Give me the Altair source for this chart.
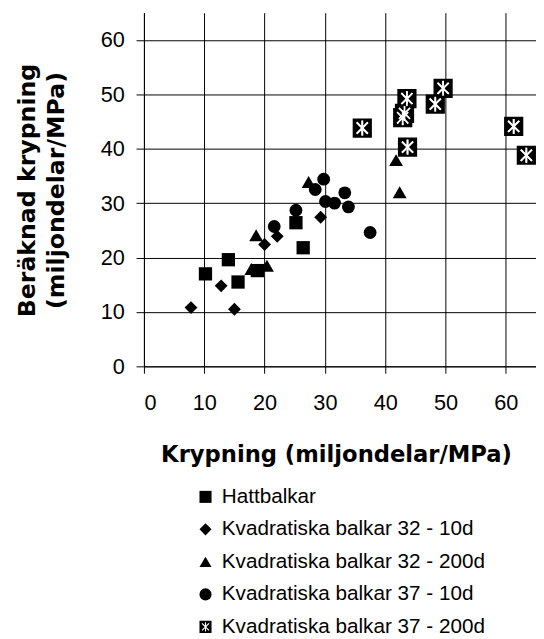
import math
import altair as alt
import pandas as pd

series_names = [
    "Hattbalkar",
    "Kvadratiska balkar 32 - 10d",
    "Kvadratiska balkar 32 - 200d",
    "Kvadratiska balkar 37 - 10d",
    "Kvadratiska balkar 37 - 200d",
]

hatt_x = [10.2, 14.0, 15.6, 18.8, 25.2, 26.4]
hatt_y = [17.0, 19.6, 15.5, 17.6, 26.4, 21.8]

k32_10_x = [7.8, 12.8, 15.0, 20.0, 22.1, 29.3]
k32_10_y = [10.8, 14.8, 10.5, 22.4, 23.9, 27.4]

k32_200_x = [17.8, 18.6, 20.4, 27.3, 41.8, 42.4]
k32_200_y = [17.9, 24.1, 18.5, 33.9, 37.9, 32.0]

k37_10_x = [21.6, 25.2, 28.4, 29.8, 30.1, 31.6, 33.3, 33.9, 37.5]
k37_10_y = [25.7, 28.7, 32.5, 34.4, 30.3, 30.0, 31.9, 29.3, 24.6]

k37_200_x = [36.2, 43.2, 42.9, 43.6, 43.7, 48.3, 49.6, 61.3, 63.4]
k37_200_y = [43.8, 46.5, 45.7, 49.2, 40.3, 48.2, 51.1, 44.1, 38.8]

tick_values = [0, 10, 20, 30, 40, 50, 60]

all_x = [hatt_x, k32_10_x, k32_200_x, k37_10_x, k37_200_x]
all_y = [hatt_y, k32_10_y, k32_200_y, k37_10_y, k37_200_y]
rows = []
for name, xs, ys in zip(series_names, all_x, all_y):
    for xv, yv in zip(xs, ys):
        rows.append({"serie": name, "x": xv, "y": yv})
df = pd.DataFrame(rows)


def star_hole(w=0.09):
    arms = [(45, 0.82), (90, 0.78), (135, 0.82), (225, 0.82), (270, 0.78), (315, 0.82)]
    pts = []
    n = len(arms)
    for i, (a, L) in enumerate(arms):
        t = math.radians(a)
        ux, uy = math.cos(t), math.sin(t)
        nx, ny = -uy, ux
        pts.append((L * ux - w * nx, L * uy - w * ny))
        pts.append((L * ux + w * nx, L * uy + w * ny))
        a2 = arms[(i + 1) % n][0]
        if a2 < a:
            a2 += 360
        d = w / math.sin(math.radians((a2 - a) / 2))
        m = math.radians((a + a2) / 2)
        pts.append((d * math.cos(m), d * math.sin(m)))
    pts.reverse()
    return "M" + "L".join(f"{px:.3f},{py:.3f}" for px, py in pts) + "Z"


boxed_star = "M-1,-1L1,-1L1,1L-1,1Z" + star_hole()
asterisk = "M-0.58,-0.58L0.58,0.58M-0.58,0.58L0.58,-0.58M0,-0.77L0,0.77"

shape_range = ["square", "diamond", "triangle-up", "circle", boxed_star]
size_range = [182, 170, 196, 169, 380]

xscale = alt.Scale(domain=[0, 65], nice=False, zero=True)
yscale = alt.Scale(domain=[0, 65], nice=False, zero=True)
shape_scale = alt.Scale(domain=series_names, range=shape_range)

x_axis = alt.Axis(
    values=tick_values,
    title="Krypning (miljondelar/MPa)",
    tickSize=7,
    labelPadding=20,
    titleX=195,
    titleY=97,
    titleAlign="center",
    titleBaseline="alphabetic",
    titleFontSize=23,
)
y_axis = alt.Axis(
    values=tick_values,
    title=["Beräknad krypning", "(miljondelar/MPa)"],
    tickSize=8,
    labelPadding=12,
    titleX=-130,
    titleY=180,
    titleAngle=270,
    titleAlign="center",
    titleBaseline="top",
    titleLineHeight=29,
    titleFontSize=24,
)

legend = alt.Legend(
    title=None,
    orient="none",
    legendX=52,
    legendY=481,
    symbolSize=150,
    symbolStrokeWidth=0,
    symbolFillColor="black",
    labelFont="Liberation Sans",
    labelFontSize=21,
    labelColor="black",
    labelLimit=400,
    rowPadding=11,
    labelOffset=6,
    padding=0,
)

base = alt.Chart(df)

layers = []
for i, name in enumerate(series_names):
    layers.append(
        base.transform_filter(alt.datum.serie == name)
        .mark_point(filled=True, color="black", opacity=1, strokeWidth=0, size=size_range[i])
        .encode(
            x=alt.X("x:Q", scale=xscale, axis=x_axis),
            y=alt.Y("y:Q", scale=yscale, axis=y_axis),
            shape=alt.Shape("serie:N", scale=shape_scale, legend=legend),
        )
    )

stars = base.transform_filter(alt.datum.serie == series_names[4]).mark_point(
    shape=asterisk, size=380, stroke="white", strokeWidth=1.8, filled=False, opacity=1
).encode(x=alt.X("x:Q", scale=xscale), y=alt.Y("y:Q", scale=yscale))
layers.append(stars)

chart = (
    alt.layer(*layers)
    .properties(
        width=398,
        height=359,
        autosize=alt.AutoSizeParams(type="none"),
        padding={"left": 138, "top": 0, "right": 0, "bottom": 271},
        background="white",
    )
    .configure_view(stroke="transparent")
    .configure_axis(
        grid=True,
        gridColor="black",
        gridOpacity=1,
        gridWidth=1,
        domainColor="black",
        domainWidth=1,
        tickColor="black",
        tickWidth=1,
        labelFont="Liberation Sans",
        labelFontSize=22,
        labelColor="black",
        titleFont="DejaVu Sans",
        titleFontWeight="bold",
        titleColor="black",
    )
)

chart.save("out.html", embed_options={"renderer": "svg", "actions": False})
